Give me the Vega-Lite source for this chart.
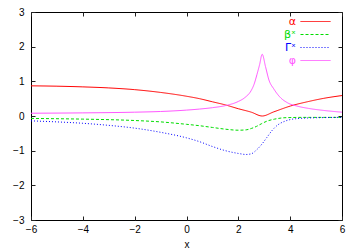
{
  "$schema": "https://vega.github.io/schema/vega-lite/v6.json",
  "width": 311,
  "height": 208,
  "autosize": {"type": "none"},
  "padding": {"left": 31, "top": 12, "right": 18, "bottom": 32},
  "background": "white",
  "config": {
    "font": "Liberation Sans",
    "view": {"stroke": "#000", "strokeWidth": 1},
    "axis": {"grid": false, "domain": false, "labelFlush": false, "tickColor": "#222", "tickSize": -4, "labelColor": "#000", "labelFontSize": 10, "labelFont": "Liberation Sans", "titleFont": "Liberation Sans", "titleFontWeight": "normal", "titleFontSize": 10, "titleColor": "#000"}
  },
  "data": {"values": [
    {"x": -6, "y": 0.87, "s": "α"}, {"x": -5, "y": 0.86, "s": "α"}, {"x": -4, "y": 0.84, "s": "α"}, {"x": -3, "y": 0.81, "s": "α"}, {"x": -2, "y": 0.76, "s": "α"}, {"x": -1, "y": 0.68, "s": "α"}, {"x": 0, "y": 0.57, "s": "α"}, {"x": 0.5, "y": 0.5, "s": "α"}, {"x": 1, "y": 0.41, "s": "α"}, {"x": 1.5, "y": 0.32, "s": "α"}, {"x": 2, "y": 0.21, "s": "α"}, {"x": 2.5, "y": 0.11, "s": "α"}, {"x": 2.92, "y": 0.0, "s": "α"}, {"x": 3.37, "y": 0.12, "s": "α"}, {"x": 4.02, "y": 0.29, "s": "α"}, {"x": 4.66, "y": 0.41, "s": "α"}, {"x": 5.3, "y": 0.51, "s": "α"}, {"x": 6, "y": 0.59, "s": "α"},
    {"x": -6, "y": -0.07, "s": "βˣ"}, {"x": -4, "y": -0.09, "s": "βˣ"}, {"x": -2, "y": -0.13, "s": "βˣ"}, {"x": -1, "y": -0.17, "s": "βˣ"}, {"x": 0, "y": -0.24, "s": "βˣ"}, {"x": 0.5, "y": -0.28, "s": "βˣ"}, {"x": 1, "y": -0.33, "s": "βˣ"}, {"x": 1.5, "y": -0.38, "s": "βˣ"}, {"x": 2, "y": -0.41, "s": "βˣ"}, {"x": 2.3, "y": -0.4, "s": "βˣ"}, {"x": 2.5, "y": -0.36, "s": "βˣ"}, {"x": 2.7, "y": -0.3, "s": "βˣ"}, {"x": 2.9, "y": -0.22, "s": "βˣ"}, {"x": 3.1, "y": -0.15, "s": "βˣ"}, {"x": 3.4, "y": -0.09, "s": "βˣ"}, {"x": 3.8, "y": -0.05, "s": "βˣ"}, {"x": 4.5, "y": -0.04, "s": "βˣ"}, {"x": 6, "y": -0.04, "s": "βˣ"},
    {"x": -6, "y": -0.14, "s": "Γˣ"}, {"x": -5, "y": -0.17, "s": "Γˣ"}, {"x": -4, "y": -0.21, "s": "Γˣ"}, {"x": -3, "y": -0.27, "s": "Γˣ"}, {"x": -2, "y": -0.35, "s": "Γˣ"}, {"x": -1, "y": -0.47, "s": "Γˣ"}, {"x": 0, "y": -0.63, "s": "Γˣ"}, {"x": 0.5, "y": -0.74, "s": "Γˣ"}, {"x": 1, "y": -0.88, "s": "Γˣ"}, {"x": 1.5, "y": -1.0, "s": "Γˣ"}, {"x": 2, "y": -1.08, "s": "Γˣ"}, {"x": 2.3, "y": -1.11, "s": "Γˣ"}, {"x": 2.5, "y": -1.09, "s": "Γˣ"}, {"x": 2.7, "y": -0.98, "s": "Γˣ"}, {"x": 2.9, "y": -0.82, "s": "Γˣ"}, {"x": 3.1, "y": -0.62, "s": "Γˣ"}, {"x": 3.3, "y": -0.42, "s": "Γˣ"}, {"x": 3.5, "y": -0.27, "s": "Γˣ"}, {"x": 3.8, "y": -0.15, "s": "Γˣ"}, {"x": 4.2, "y": -0.08, "s": "Γˣ"}, {"x": 5, "y": -0.05, "s": "Γˣ"}, {"x": 6, "y": -0.04, "s": "Γˣ"},
    {"x": -6, "y": 0.08, "s": "φ"}, {"x": -4, "y": 0.09, "s": "φ"}, {"x": -2, "y": 0.11, "s": "φ"}, {"x": -1, "y": 0.13, "s": "φ"}, {"x": 0, "y": 0.17, "s": "φ"}, {"x": 0.5, "y": 0.2, "s": "φ"}, {"x": 1, "y": 0.24, "s": "φ"}, {"x": 1.5, "y": 0.3, "s": "φ"}, {"x": 2, "y": 0.42, "s": "φ"}, {"x": 2.25, "y": 0.53, "s": "φ"}, {"x": 2.5, "y": 0.74, "s": "φ"}, {"x": 2.6, "y": 0.9, "s": "φ"}, {"x": 2.72, "y": 1.2, "s": "φ"}, {"x": 2.82, "y": 1.48, "s": "φ"}, {"x": 2.92, "y": 1.78, "s": "φ"}, {"x": 3.05, "y": 1.42, "s": "φ"}, {"x": 3.18, "y": 1.04, "s": "φ"}, {"x": 3.37, "y": 0.78, "s": "φ"}, {"x": 3.6, "y": 0.55, "s": "φ"}, {"x": 3.9, "y": 0.38, "s": "φ"}, {"x": 4.3, "y": 0.28, "s": "φ"}, {"x": 4.7, "y": 0.22, "s": "φ"}, {"x": 5.3, "y": 0.16, "s": "φ"}, {"x": 6, "y": 0.11, "s": "φ"}
  ]},
  "layer": [
    {
      "mark": {"type": "line", "strokeWidth": 1, "interpolate": "monotone", "clip": true},
      "encoding": {
        "x": {"field": "x", "type": "quantitative", "scale": {"domain": [-6, 6], "nice": false, "zero": false}, "axis": {"values": [-6, -4, -2, 0, 2, 4, 6], "title": "x", "labelPadding": 8, "titlePadding": 5}},
        "y": {"field": "y", "type": "quantitative", "scale": {"domain": [-3, 3], "nice": false, "zero": false}, "axis": {"values": [-3, -2, -1, 0, 1, 2, 3], "title": null, "labelPadding": 11}},
        "color": {"field": "s", "type": "nominal", "scale": {"domain": ["α", "βˣ", "Γˣ", "φ"], "range": ["#ff0000", "#00dd00", "#0000ff", "#ff55ff"]}, "legend": {
          "title": null, "orient": "none", "legendX": 279, "legendY": 4, "padding": 0, "rowPadding": 1,
          "symbolType": "M-3,0H3", "symbolSize": 100, "symbolStrokeWidth": 1,
          "labelFontSize": 11, "labelFont": "DejaVu Sans",
          "encode": {"labels": {"update": {"x": {"value": -14}, "align": {"value": "right"}, "fill": {"scale": "color", "field": "value"}}}}
        }},
        "strokeDash": {"field": "s", "type": "nominal", "scale": {"domain": ["α", "βˣ", "Γˣ", "φ"], "range": [[1, 0], [3, 2], [1, 2], [1, 0]]}, "legend": {
          "title": null, "orient": "none", "legendX": 279, "legendY": 4, "padding": 0, "rowPadding": 1,
          "symbolType": "M-3,0H3", "symbolSize": 100, "symbolStrokeWidth": 1,
          "labelFontSize": 11, "labelFont": "DejaVu Sans",
          "encode": {"labels": {"update": {"x": {"value": -14}, "align": {"value": "right"}, "fill": {"scale": "color", "field": "value"}}}}
        }}
      }
    },
    {
      "mark": {"type": "point", "opacity": 0},
      "encoding": {
        "x": {"field": "x", "type": "quantitative", "axis": {"orient": "top", "values": [-6, -4, -2, 0, 2, 4, 6], "labels": false, "title": null}},
        "y": {"field": "y", "type": "quantitative", "axis": {"orient": "right", "values": [-3, -2, -1, 0, 1, 2, 3], "labels": false, "title": null}}
      }
    }
  ],
  "resolve": {"axis": {"x": "independent", "y": "independent"}}
}
